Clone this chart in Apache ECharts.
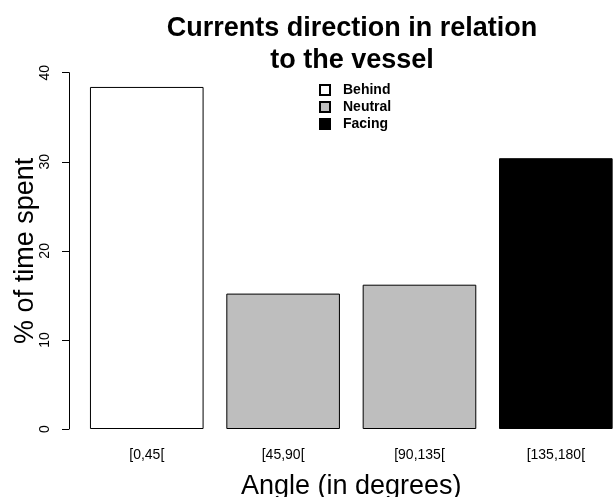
<!DOCTYPE html>
<html>
<head>
<meta charset="utf-8">
<script src="https://cdn.jsdelivr.net/npm/echarts@6/dist/echarts.min.js"></script>
<style>
html,body{margin:0;padding:0;background:#fff;}
#chart{width:613px;height:497px;}
</style>
</head>
<body>
<div id="chart"></div>
<script>
var categories = ['[0,45[', '[45,90[', '[90,135[', '[135,180['];
var behind  = [38.4, '-', '-', '-'];
var neutral = ['-', 15.2, 16.2, '-'];
var facing  = ['-', '-', '-', 30.4];
var yTicks = [0, 10, 20, 30, 40];

var FONT = '"Liberation Sans", Arial, Helvetica, sans-serif';
var chart = echarts.init(document.getElementById('chart'));

function barSeries(name, data, color) {
  return {
    name: name,
    type: 'bar',
    stack: 'all',
    data: data,
    barWidth: '83.333%',
    itemStyle: { color: color, borderColor: '#000', borderWidth: 1 },
    emphasis: { disabled: true },
    animation: false
  };
}

chart.setOption({
  animation: false,
  backgroundColor: '#fff',
  title: {
    text: 'Currents direction in relation\nto the vessel',
    left: 347,
    top: 8,
    textAlign: 'center',
    textStyle: { fontFamily: FONT, fontSize: 27, fontWeight: 'bold', color: '#000', lineHeight: 32 }
  },
  legend: {
    orient: 'vertical',
    left: 314,
    top: 78,
    itemWidth: 10,
    itemHeight: 10,
    itemGap: 3,
    icon: 'rect',
    selectedMode: false,
    data: ['Behind', 'Neutral', 'Facing'],
    textStyle: { fontFamily: FONT, fontSize: 14, lineHeight: 14, fontWeight: 'bold', color: '#000', padding: [0, 0, 0, 8] }
  },
  grid: { left: 78.6, width: 545.4, top: 72.7, height: 356.3, containLabel: false, outerBoundsMode: 'none' },
  xAxis: {
    type: 'category',
    data: categories,
    axisLine: { show: false },
    axisTick: { show: false },
    axisLabel: { fontFamily: FONT, fontSize: 14, color: '#000', margin: 19 },
    name: 'Angle (in degrees)',
    nameLocation: 'middle',
    nameMoveOverlap: false,
    nameGap: 44,
    nameTextStyle: { fontFamily: FONT, fontSize: 27, color: '#000' }
  },
  yAxis: {
    type: 'value',
    min: 0,
    max: 40,
    interval: 10,
    offset: 9.6,
    axisLine: { show: true, lineStyle: { color: '#000', width: 1 } },
    axisTick: { show: true, length: 7, lineStyle: { color: '#000' } },
    splitLine: { show: false },
    axisLabel: { fontFamily: FONT, fontSize: 14, color: '#000', rotate: 90, margin: 17,
      formatter: function (v) { return yTicks.indexOf(v) >= 0 ? String(v) : ''; } },
    name: '% of time spent',
    nameLocation: 'middle',
    nameMoveOverlap: false,
    nameGap: 30,
    nameTextStyle: { fontFamily: FONT, fontSize: 27, color: '#000' }
  },
  series: [
    barSeries('Behind', behind, '#ffffff'),
    barSeries('Neutral', neutral, '#bebebe'),
    barSeries('Facing', facing, '#000000')
  ]
});
</script>
</body>
</html>
